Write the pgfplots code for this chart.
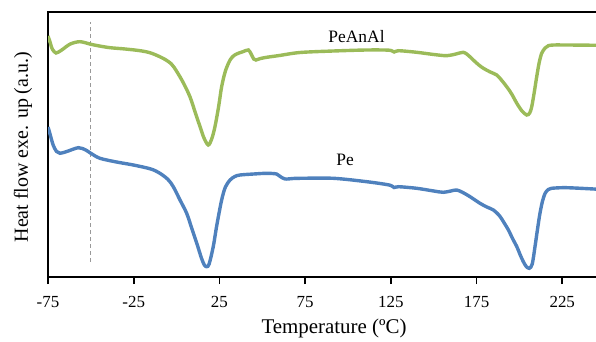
\documentclass[border=0pt]{standalone}
\usepackage{fontspec}
\setmainfont{Liberation Serif}
\usepackage{pgfplots}
\pgfplotsset{compat=1.18}

\definecolor{curvegreen}{HTML}{9BBB59}
\definecolor{curveblue}{HTML}{4F81BD}

\begin{document}
\begin{tikzpicture}
% fixed page frame
\useasboundingbox (0,0) rectangle (596bp,342bp);
\begin{axis}[
  at={(48bp,65bp)}, anchor=south west,
  scale only axis,
  width=551.1bp, height=265bp,
  xmin=-75, xmax=246.5,
  ymin=0, ymax=265,
  axis line style={line width=1.6bp, black},
  xtick={-75,-25,25,75,125,175,225},
  xticklabels={-75,-25,25,75,125,175,225},
  ytick=\empty,
  tick align=outside,
  xtick pos=bottom,
  major tick length=7bp,
  every tick/.style={line width=1.6bp, black},
  xticklabel style={font=\fontsize{17}{17}\selectfont, yshift=-9bp},
  xlabel={Temperature (ºC)},
  ylabel={Heat flow exe. up (a.u.)},
  xlabel style={font=\fontsize{21}{21}\selectfont, at={(rel axis cs:0.519,0)}, anchor=center, yshift=-51bp},
  ylabel style={font=\fontsize{20}{20}\selectfont, at={(rel axis cs:0,0.49)}, anchor=center, yshift=25bp},
  clip=true,
]
% cooling/heating reference line
\addplot[color=black!40, line width=1bp, dash pattern=on 4bp off 3bp] coordinates {(-50,15) (-50,255)};

% PeAnAl
\addplot[color=curvegreen, line width=3.4bp, smooth, tension=0.5] coordinates {
(-75,241) (-74,236) (-72.5,228) (-70.3,224) (-67,227) (-62,233) (-56.3,235.3)
(-50,232.7) (-45,231) (-38.8,229.3) (-30,228) (-21.3,226.3) (-15,224) (-7.9,218.7)
(-3,213) (0.2,205.3) (4,194) (7.8,180.3) (11,164) (13.7,150.3) (16,139) (18.5,132)
(20.5,138) (22.4,150.3) (24.5,170) (26.3,190.3) (28.5,206) (31.2,217) (33.5,221.5)
(36,223.7) (39,225.5) (41.9,227) (43.5,223) (45,218) (46.3,217) (49,218.5) (52.6,219.7)
(60,221.5) (72,224.5) (91.5,226) (110.9,227) (124,226.8) (126.9,225) (129.5,226.3)
(140.1,224.7) (150,222.5) (157.6,221.3) (163,223) (167.3,224.7) (170,222) (173.1,217)
(176,212.5) (179,208.7) (183,205) (186.8,202) (189.5,197) (192.6,190.3) (195.5,183)
(198.5,173.7) (201.5,166) (204.3,162) (206,164) (207.2,170.3) (208.7,185) (210.1,200.3)
(211.5,214) (213,223.7) (215,229) (216.9,231.3) (220,232) (227.6,232) (246.5,231.7)
};

% Pe
\addplot[color=curveblue, line width=3.4bp, smooth, tension=0.5] coordinates {
(-75,150) (-74.2,145.3) (-72,132) (-70,125.5) (-68,123.7) (-64,125.5) (-57.3,129.3)
(-53,127) (-50,123.7) (-44.7,118.7) (-35,115) (-25.2,112) (-15,108) (-9.7,103.7)
(-5,97.5) (-1.9,90.3) (2,77) (5.9,63.7) (9,48) (11.8,33.7) (14.5,19) (16.2,12)
(17.6,10.3) (19,13) (21.4,30.3) (23.5,52) (26.3,77) (28.5,90) (31.2,97) (34,100.5)
(37,102) (45,103) (52.6,103.7) (58.4,103) (60.5,100.5) (63.3,98) (68,98.5) (72,98.7)
(91.5,98.7) (110.9,95.3) (124,92) (126.9,89.5) (129.5,90.3) (140.1,88.7) (150,86)
(155.6,84.7) (160,86) (163.4,87) (167,84.5) (171.2,80.3) (177,73.7) (181,70)
(184.8,67) (188.5,61) (191.5,53) (193.6,47) (196,38.5) (198.5,30.3) (200.5,22)
(202.3,15.3) (204,10.5) (205.8,8.7) (207.5,13) (209.1,30.3) (210.5,47) (212,63.7)
(213.5,76) (215,83.7) (216.8,87.5) (218.8,88.7) (227.6,89.3) (246.5,87.7)
};

\node[font=\fontsize{17.5}{17.5}\selectfont] at (axis cs:105,240) {PeAnAl};
\node[font=\fontsize{17.5}{17.5}\selectfont] at (axis cs:98.3,117) {Pe};
\end{axis}
\end{tikzpicture}
\end{document}
